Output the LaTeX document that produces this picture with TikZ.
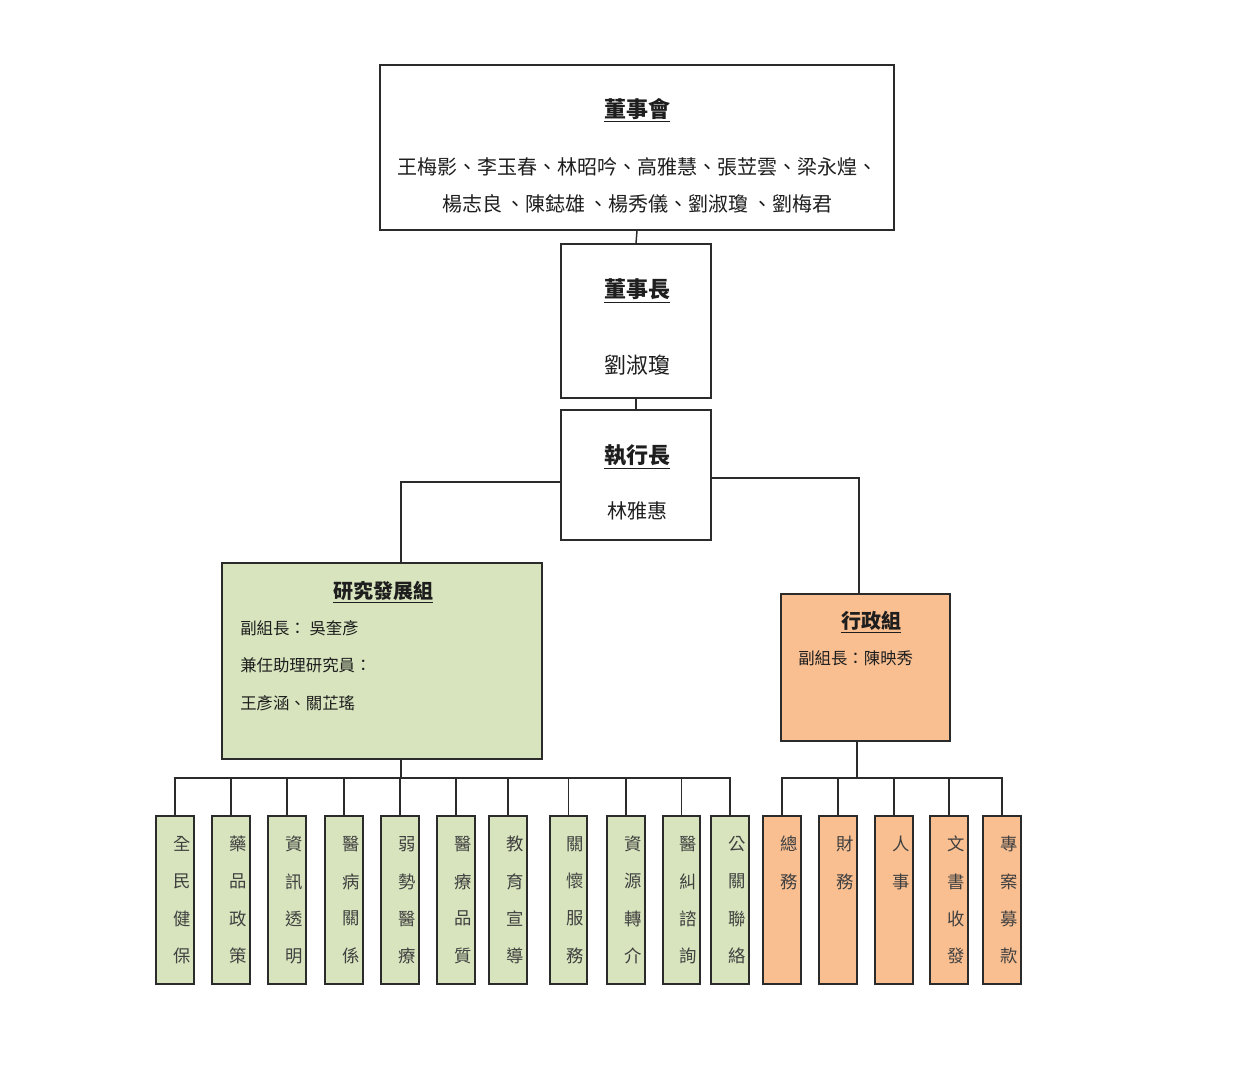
\documentclass[tikz,border=0pt]{standalone}
\usepackage{fontspec}
\setmainfont{Noto Sans CJK TC}
\usetikzlibrary{fit,calc}
\definecolor{boxline}{HTML}{2B2B2B}
\definecolor{greenfill}{HTML}{D7E4BD}
\definecolor{orangefill}{HTML}{F9BF91}
\definecolor{txt}{HTML}{1E1E1E}
\begin{document}
\begin{tikzpicture}[x=0.75pt,y=-0.75pt,
  box/.style={draw=boxline,line width=1.3pt,inner sep=0pt,fill=white},
  gbox/.style={box,fill=greenfill},
  obox/.style={box,fill=orangefill},
  conn/.style={draw=boxline,line width=1.1pt},
  ttl/.style={font=\bfseries\fontsize{16.5pt}{18pt}\selectfont,text=txt,inner sep=0pt},
  big/.style={font=\fontsize{15pt}{18pt}\selectfont,text=txt,inner sep=0pt},
  mid/.style={font=\fontsize{12.3pt}{15pt}\selectfont,text=txt,inner sep=0pt,anchor=west},
  vch/.style={font=\fontsize{13pt}{15pt}\selectfont,text=txt!85,inner sep=0pt}]
\useasboundingbox (0,0) rectangle (1241,1069);
% top boxes
\node[box,fit={(380,65) (894,230)}] (board) {};
\node[ttl] (boardT) at (637,110) {\underline{董事會}};
\node[big] (boardN1) at (637,167) {王梅影、李玉春、林昭吟、高雅慧、張苙雲、梁永煌、};
\node[big] (boardN2) at (637,204) {楊志良\,、陳鋕雄\,、楊秀儀、劉淑瓊\,、劉梅君};
\node[box,fit={(561,244) (711,398)}] (chair) {};
\node[ttl] (chairT) at (637,291) {\underline{董事長}};
\node[big,font=\fontsize{16.5pt}{18pt}\selectfont] (chairN) at (637,365) {劉淑瓊};
\node[box,fit={(561,410) (711,540)}] (ceo) {};
\node[ttl] (ceoT) at (637,457) {\underline{執行長}};
\node[big] (ceoN) at (637,511) {林雅惠};
% groups
\node[gbox,fit={(222,563) (542,759)}] (rd) {};
\node[ttl,font=\bfseries\fontsize{15pt}{18pt}\selectfont] (rdT) at (383,592) {\underline{研究發展組}};
\node[mid] (rd1) at (240,628) {副組長：\ 吳奎彥};
\node[mid] (rd2) at (240,665) {兼任助理研究員：};
\node[mid] (rd3) at (240,703) {王彥涵、關芷瑤};
\node[obox,fit={(781,594) (950,741)}] (adm) {};
\node[ttl,font=\bfseries\fontsize{15pt}{18pt}\selectfont] (admT) at (871,622) {\underline{行政組}};
\node[mid] (adm1) at (798,658) {副組長：陳映秀};
% connectors top
\draw[conn] (board.south) -- (chair.north);
\draw[conn] (chair.south) -- (ceo.north);
\coordinate (ceoL) at (561,482);
\coordinate (rdTop) at (401,563);
\coordinate (ceoR) at (711,478);
\coordinate (admTop) at (859,594);
\draw[conn] (ceoL) -| (rdTop);
\draw[conn] (ceoR) -| (admTop);
% research sub boxes
\coordinate (rdBot) at (401,759);
\coordinate (busL) at (401,778);
\draw[conn] (rdBot) -- (busL);
\foreach \i/\xa/\xb/\t in {1/156/194/{全,民,健,保},2/212/250/{藥,品,政,策},3/268/306/{資,訊,透,明},4/325/363/{醫,病,關,係},5/381/419/{弱,勢,醫,療},6/437/475/{醫,療,品,質},7/489/527/{教,育,宣,導},8/550/587/{關,懷,服,務},9/607/645/{資,源,轉,介},10/663/700/{醫,糾,諮,詢},11/711/749/{公,關,聯,絡}}{
  \node[gbox,fit={(\xa,816) (\xb,984)}] (g\i) {};
  \draw[conn] (busL) -| (g\i.north);
  \foreach \c [count=\k] in \t {
    \node[vch] (g\i c\k) at ($(g\i.north)+(7,29+37.3*\k-37.3)$) {\c};
  }
}
% admin sub boxes
\coordinate (admBot) at (857,741);
\coordinate (busR) at (857,778);
\draw[conn] (admBot) -- (busR);
\foreach \i/\xa/\xb/\t in {1/763/801/{總,務},2/819/857/{財,務},3/875/913/{人,事},4/930/968/{文,書,收,發},5/983/1021/{專,案,募,款}}{
  \node[obox,fit={(\xa,816) (\xb,984)}] (o\i) {};
  \draw[conn] (busR) -| (o\i.north);
  \foreach \c [count=\k] in \t {
    \node[vch] (o\i c\k) at ($(o\i.north)+(7,29+37.3*\k-37.3)$) {\c};
  }
}
\end{tikzpicture}
\end{document}
